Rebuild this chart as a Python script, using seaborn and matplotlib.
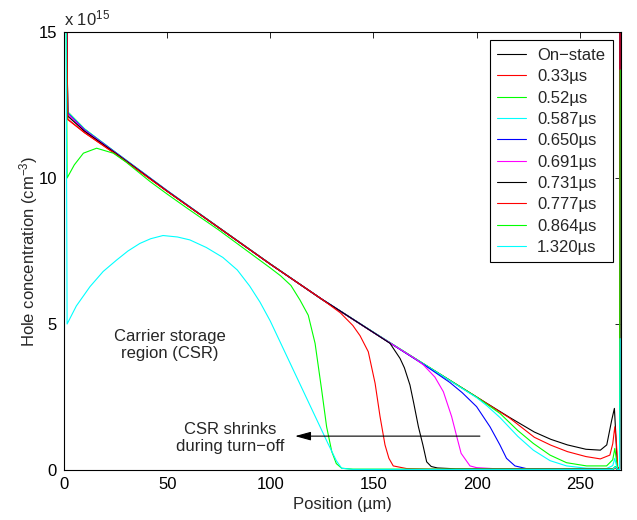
import pandas as pd
import seaborn as sns
import matplotlib
matplotlib.use('Agg')
import matplotlib.pyplot as plt

# position in um, hole concentration in units of 1e15 cm^-3
pos_on = [0.8, 1.8, 10, 25, 50, 75, 100, 125, 150, 175, 200, 216, 228, 236, 244, 253, 260, 263.1, 265.5, 266.8, 267.5, 268.2, 269.3, 269.6]
hole_on = [20, 12.2, 11.62, 10.85, 9.55, 8.3, 7.05, 5.84, 4.71, 3.6, 2.5, 1.8, 1.3, 1.05, 0.86, 0.71, 0.68, 0.86, 1.71, 2.11, 1.2, 0.1, 0.05, 20]

pos_033 = [0.8, 1.8, 10, 25, 50, 75, 100, 125, 150, 175, 200, 216, 228, 236, 244, 253, 260, 264.6, 266, 267, 267.8, 268.4, 269.3, 269.6]
hole_033 = [20, 12.02, 11.55, 10.82, 9.55, 8.3, 7.05, 5.84, 4.71, 3.6, 2.5, 1.78, 1.12, 0.85, 0.63, 0.46, 0.38, 0.51, 0.9, 1.48, 0.9, 0.1, 0.05, 20]

pos_052 = [0.8, 1.8, 10, 25, 50, 75, 100, 125, 150, 175, 200, 205, 211.3, 220, 227.5, 235.6, 243.6, 253.3, 263, 266, 267, 267.8, 268.4, 269.3, 269.6]
hole_052 = [20, 12.27, 11.68, 10.88, 9.57, 8.31, 7.06, 5.85, 4.72, 3.61, 2.5, 2.25, 1.94, 1.35, 0.91, 0.51, 0.25, 0.14, 0.14, 0.35, 0.74, 0.35, 0.05, 0.03, 20]

pos_0587 = [0.8, 1.8, 10, 25, 50, 75, 100, 125, 150, 175, 200, 205, 211.3, 220, 227.5, 235.6, 243.6, 253.3, 263, 266, 267, 267.8, 268.4, 269.3, 269.6]
hole_0587 = [20, 12.25, 11.67, 10.88, 9.57, 8.31, 7.06, 5.85, 4.72, 3.6, 2.48, 2.2, 1.8, 1.15, 0.68, 0.32, 0.14, 0.06, 0.05, 0.15, 0.4, 0.15, 0.03, 0.02, 20]

pos_0650 = [0.8, 1.8, 10, 25, 50, 75, 100, 125, 150, 175, 187, 193, 200, 206.5, 211.3, 214.5, 218.6, 224, 240, 266, 267.2, 268.2, 269.3, 269.6]
hole_0650 = [20, 12.22, 11.65, 10.87, 9.56, 8.3, 7.05, 5.85, 4.71, 3.58, 3.0, 2.65, 2.17, 1.48, 0.86, 0.4, 0.14, 0.05, 0.03, 0.03, 0.1, 0.03, 0.02, 20]

pos_0691 = [0.8, 1.8, 10, 25, 50, 75, 100, 125, 150, 170, 174.2, 179.8, 183.9, 187.9, 190.4, 192.5, 196.8, 200, 210, 266, 267.2, 268.2, 269.3, 269.6]
hole_0691 = [20, 12.2, 11.63, 10.86, 9.56, 8.3, 7.05, 5.85, 4.71, 3.82, 3.6, 3.18, 2.68, 1.83, 1.14, 0.57, 0.14, 0.08, 0.04, 0.03, 0.08, 0.03, 0.02, 20]

pos_0731 = [0.8, 1.8, 10, 25, 50, 75, 100, 125, 150, 158, 162.9, 165, 167.7, 169.5, 171.8, 174, 175.8, 178, 181, 190, 266, 267.2, 268.2, 269.3, 269.6]
hole_0731 = [20, 12.12, 11.6, 10.85, 9.55, 8.3, 7.05, 5.85, 4.71, 4.34, 3.82, 3.5, 2.91, 2.3, 1.48, 0.85, 0.28, 0.12, 0.07, 0.04, 0.03, 0.06, 0.03, 0.02, 20]

pos_0777 = [0.8, 1.8, 10, 25, 50, 75, 100, 125, 134, 140, 143.5, 147.5, 150.8, 153.2, 155.6, 157.5, 159.6, 166, 180, 266, 267.2, 268.2, 269.3, 269.6]
hole_0777 = [20, 12.0, 11.55, 10.82, 9.54, 8.3, 7.05, 5.85, 5.38, 4.95, 4.6, 4.05, 2.97, 1.83, 0.86, 0.4, 0.14, 0.05, 0.03, 0.03, 0.06, 0.03, 0.02, 20]

pos_0864 = [0.8, 1.5, 5, 9.4, 15.8, 23.9, 30, 41.7, 50, 60, 75, 100, 105, 110, 114.4, 118.4, 121.7, 124.9, 127.3, 129.8, 132, 134.6, 140, 266, 267.2, 268.2, 269.3, 269.6]
hole_0864 = [20, 10.0, 10.45, 10.85, 11.02, 10.85, 10.55, 9.88, 9.45, 8.95, 8.22, 6.92, 6.65, 6.32, 5.82, 5.3, 4.34, 2.74, 1.48, 0.63, 0.22, 0.06, 0.03, 0.03, 0.12, 0.03, 0.02, 13.7]

pos_1320 = [0.8, 1.5, 6, 12.6, 19, 25.5, 31, 36.8, 42, 48, 55, 61, 69, 77, 84, 90, 95, 100, 105, 110, 120, 128, 132, 134.6, 140, 266, 267.2, 268.2, 269.3, 269.6]
hole_1320 = [20, 5.0, 5.62, 6.28, 6.8, 7.19, 7.5, 7.76, 7.92, 8.03, 7.98, 7.88, 7.62, 7.28, 6.85, 6.3, 5.75, 5.1, 4.35, 3.6, 2.1, 0.9, 0.32, 0.06, 0.02, 0.02, 0.1, 0.02, 0.02, 4.5]

labels = ['On\u2212state', '0.33\u00b5s', '0.52\u00b5s', '0.587\u00b5s', '0.650\u00b5s',
          '0.691\u00b5s', '0.731\u00b5s', '0.777\u00b5s', '0.864\u00b5s', '1.320\u00b5s']
colors = ['#000000', '#ff0000', '#00ff00', '#00ffff', '#0000ff',
          '#ff00ff', '#000000', '#ff0000', '#00ff00', '#00ffff']

positions = [pos_on, pos_033, pos_052, pos_0587, pos_0650, pos_0691, pos_0731, pos_0777, pos_0864, pos_1320]
holes = [hole_on, hole_033, hole_052, hole_0587, hole_0650, hole_0691, hole_0731, hole_0777, hole_0864, hole_1320]

frames = []
for lab, p, h in zip(labels, positions, holes):
    frames.append(pd.DataFrame({'Position': p, 'Hole': h, 'Time': lab}))
df = pd.concat(frames, ignore_index=True)

sns.set_style('white')
plt.rcParams['font.family'] = ['Liberation Sans', 'DejaVu Sans']
plt.rcParams['mathtext.fontset'] = 'custom'
plt.rcParams['mathtext.rm'] = 'Liberation Sans'
plt.rcParams['mathtext.it'] = 'Liberation Sans:italic'
fs = 12

fig = plt.figure(figsize=(6.37, 5.2), dpi=100)
ax = fig.add_axes([64 / 637, 50 / 520, 557 / 637, 438 / 520])

sns.lineplot(data=df, x='Position', y='Hole', hue='Time', hue_order=labels,
             palette=dict(zip(labels, colors)), estimator=None, sort=False,
             linewidth=0.8, ax=ax)

ax.set_xlim(0, 270)
ax.set_ylim(0, 15)
ax.set_xticks([0, 50, 100, 150, 200, 250])
ax.set_yticks([0, 5, 10, 15])
ax.tick_params(direction='in', length=4, width=0.6, top=True, right=True,
               labelsize=fs, colors='k')
ax.tick_params(axis='x', pad=5)
ax.tick_params(axis='y', pad=5)
for s in ax.spines.values():
    s.set_color('k')
    s.set_linewidth(0.8)

ax.set_xlabel('Position (\u00b5m)', fontsize=fs, labelpad=4)
ax.set_ylabel('Hole concentration (cm$^{\u22123}$)', fontsize=fs, labelpad=-1)
ax.text(0, 1.014, 'x 10$^{15}$', transform=ax.transAxes, fontsize=fs,
        ha='left', va='baseline')

# legend in the matlab style
handles, labs = ax.get_legend_handles_labels()
ax.get_legend().remove()
leg = ax.legend(handles, labs, loc='upper right', fontsize=fs, frameon=True,
                fancybox=False, edgecolor='k', framealpha=1,
                borderpad=0.45, labelspacing=0.38, handlelength=1.75,
                handletextpad=0.65, borderaxespad=0.5)
leg.get_frame().set_linewidth(0.8)

ax.text(51.4, 4.28, 'Carrier storage\nregion (CSR)', fontsize=fs,
        ha='center', va='center')
ax.text(80.7, 1.09, 'CSR shrinks\nduring turn\u2212off', fontsize=fs,
        ha='center', va='center')
ax.annotate('', xy=(112, 1.16), xytext=(201.6, 1.16),
            arrowprops=dict(arrowstyle='-|>,head_length=0.8,head_width=0.22',
                            color='k', lw=0.8, mutation_scale=12,
                            shrinkA=0, shrinkB=0))

fig.savefig('out.png', dpi=100)
